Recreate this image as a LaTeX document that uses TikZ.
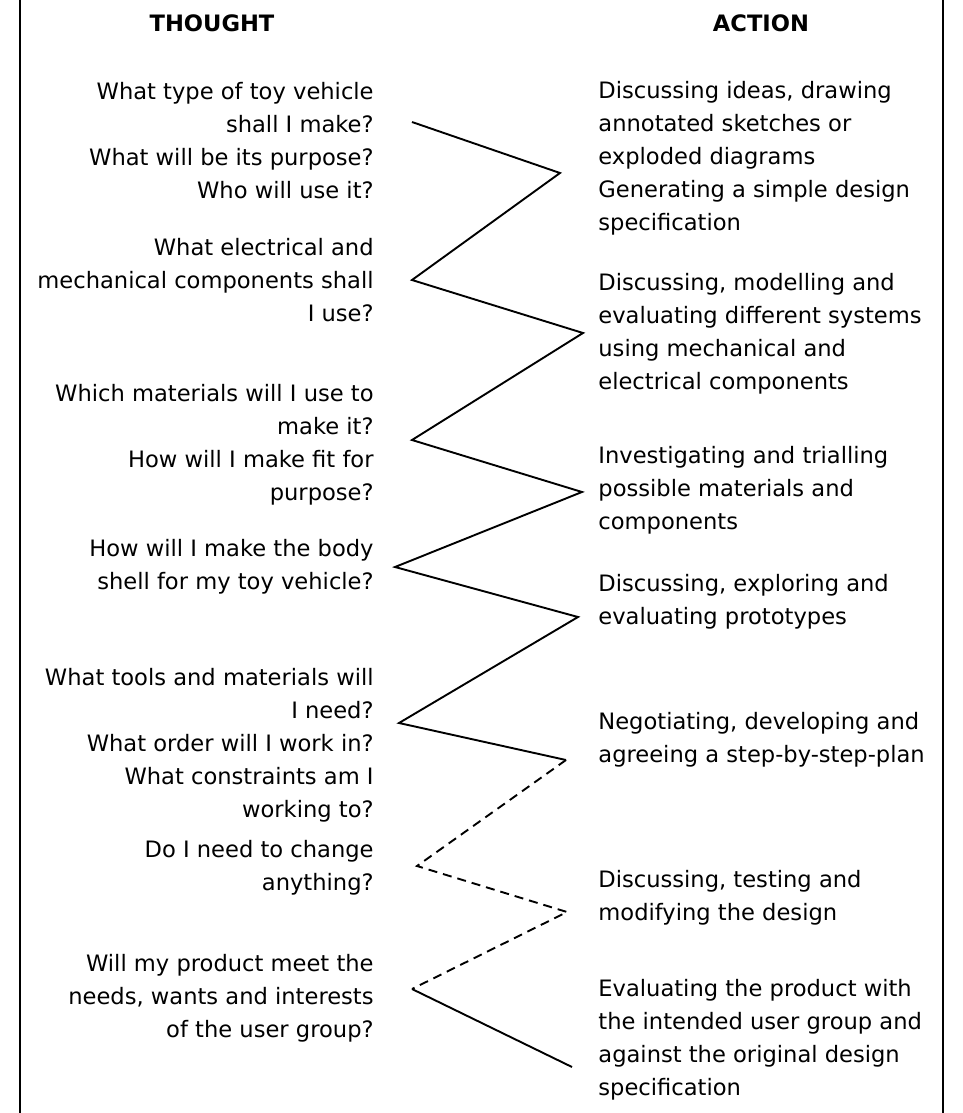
\documentclass[tikz,border=0pt]{standalone}
\usepackage{fontspec}
\setmainfont{DejaVu Sans}
\usepackage{tikz}

\begin{document}
\begin{tikzpicture}[x=0.5pt,y=-0.5pt,
    every node/.style={inner sep=0pt,font=\fontsize{11.3}{16.5}\selectfont},
    thought/.style={anchor=east,align=right},
    action/.style={anchor=west,align=left},
    heading/.style={font=\fontsize{11.3}{16.5}\selectfont\bfseries},
    zig/.style={line width=0.95pt,line join=miter},
    zigdash/.style={zig,dash pattern=on 4.5pt off 3pt}]
        % Thought and action zig-zag
        \useasboundingbox (0,0) rectangle (963,1113);
        \draw[line width=1pt] (20,0) -- (20,1113);
        \draw[line width=1pt] (943,0) -- (943,1113);

        \node[heading] (thoughthead) at (212,23) {THOUGHT};
        \node[heading] (actionhead) at (761,23) {ACTION};

        \node[thought] (q1) at (374,141) {What type of toy vehicle\\shall I make?\\What will be its purpose?\\Who will use it?};
        \node[thought] (q2) at (374,280) {What electrical and\\mechanical components shall\\I use?};
        \node[thought] (q3) at (374,445) {Which materials will I use to\\make it?\\How will I make fit for\\purpose?};
        \node[thought] (q4) at (374,567) {How will I make the body\\shell for my toy vehicle?};
        \node[thought] (q5) at (374,745) {What tools and materials will\\I need?\\What order will I work in?\\What constraints am I\\working to?};
        \node[thought] (q6) at (374,868) {Do I need to change\\anything?};
        \node[thought] (q7) at (374,998) {Will my product meet the\\needs, wants and interests\\of the user group?};

        \node[action] (a1) at (598,158) {Discussing ideas, drawing\\annotated sketches or\\exploded diagrams\\Generating a simple design\\specification};
        \node[action] (a2) at (598,334) {Discussing, modelling and\\evaluating different systems\\using mechanical and\\electrical components};
        \node[action] (a3) at (598,490) {Investigating and trialling\\possible materials and\\components};
        \node[action] (a4) at (598,602) {Discussing, exploring and\\evaluating prototypes};
        \node[action] (a5) at (598,740) {Negotiating, developing and\\agreeing a step-by-step-plan};
        \node[action] (a6) at (598,898) {Discussing, testing and\\modifying the design};
        \node[action] (a7) at (598,1040) {Evaluating the product with\\the intended user group and\\against the original design\\specification};

        \coordinate (z0) at (412,122);
        \coordinate (z1) at (560,173);
        \coordinate (z2) at (412,280);
        \coordinate (z3) at (583,333);
        \coordinate (z4) at (412,440);
        \coordinate (z5) at (582,492);
        \coordinate (z6) at (395,567);
        \coordinate (z7) at (578,617);
        \coordinate (z8) at (399,723);
        \coordinate (z9) at (566,760);
        \coordinate (z10) at (417,866);
        \coordinate (z11) at (567,912);
        \coordinate (z12) at (412,989);
        \coordinate (z13) at (572,1067);

        \draw[zig] (z0) -- (z1) -- (z2) -- (z3) -- (z4) -- (z5) -- (z6) -- (z7) -- (z8) -- (z9);
        \draw[zigdash] (z9) -- (z10) -- (z11) -- (z12);
        \draw[zig] (z12) -- (z13);
    \end{tikzpicture}
\end{document}
